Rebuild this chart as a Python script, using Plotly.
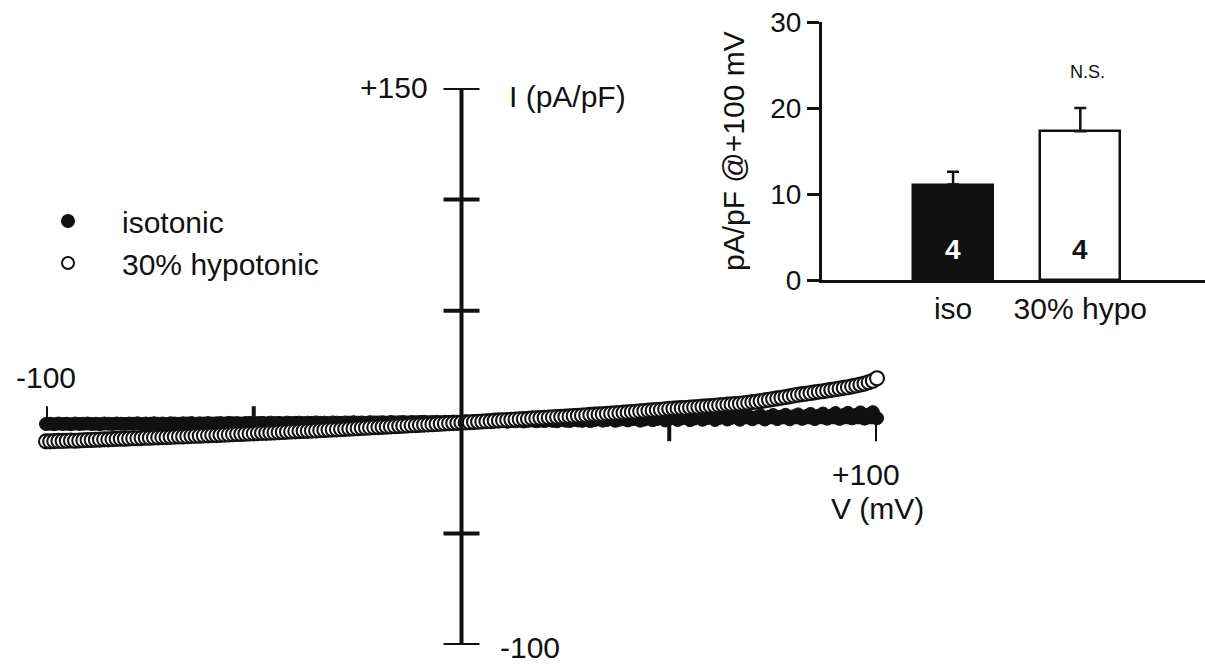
import plotly.graph_objects as go

# ---------------- data ----------------
voltage_mV = [
    -100, -99, -98, -97, -96, -95, -94, -93, -92, -91, -90, -89, -88, -87, -86, -85, -84, -83, -82, -81,
    -80, -79, -78, -77, -76, -75, -74, -73, -72, -71, -70, -69, -68, -67, -66, -65, -64, -63, -62, -61,
    -60, -59, -58, -57, -56, -55, -54, -53, -52, -51, -50, -49, -48, -47, -46, -45, -44, -43, -42, -41,
    -40, -39, -38, -37, -36, -35, -34, -33, -32, -31, -30, -29, -28, -27, -26, -25, -24, -23, -22, -21,
    -20, -19, -18, -17, -16, -15, -14, -13, -12, -11, -10, -9, -8, -7, -6, -5, -4, -3, -2, -1,
    0, 1, 2, 3, 4, 5, 6, 7, 8, 9, 10, 11, 12, 13, 14, 15, 16, 17, 18, 19,
    20, 21, 22, 23, 24, 25, 26, 27, 28, 29, 30, 31, 32, 33, 34, 35, 36, 37, 38, 39,
    40, 41, 42, 43, 44, 45, 46, 47, 48, 49, 50, 51, 52, 53, 54, 55, 56, 57, 58, 59,
    60, 61, 62, 63, 64, 65, 66, 67, 68, 69, 70, 71, 72, 73, 74, 75, 76, 77, 78, 79,
    80, 81, 82, 83, 84, 85, 86, 87, 88, 89, 90, 91, 92, 93, 94, 95, 96, 97, 98, 99,
    100]

isotonic_pApF = [
    -0.8, -0.7, -0.9, -0.6, -0.8, -0.7, -0.9, -0.6, -0.8, -0.7, -0.6, -0.8, -0.7, -0.9, -0.6, -0.7, -0.8, -0.6, -0.7, -0.8,
    -0.6, -0.7, -0.5, -0.8, -0.6, -0.7, -0.5, -0.7, -0.6, -0.8, -0.5, -0.6, -0.7, -0.5, -0.6, -0.4, -0.7, -0.5, -0.6, -0.4,
    -0.6, -0.5, -0.4, -0.6, -0.3, -0.5, -0.4, -0.6, -0.4, -0.3, -0.5, -0.4, -0.3, -0.5, -0.2, -0.4, -0.3, -0.5, -0.2, -0.4,
    -0.3, -0.2, -0.4, -0.2, -0.3, -0.1, -0.3, -0.2, -0.4, -0.1, -0.2, -0.3, -0.1, -0.2, 0.0, -0.2, -0.1, -0.3, 0.0, -0.1,
    -0.1, 0.0, -0.2, 0.1, -0.1, 0.0, 0.1, -0.1, 0.1, 0.0, 0.1, 0.2, 0.0, 0.1, 0.2, 0.0, 0.2, 0.1, 0.3, 0.1,
    0.2, 0.3, 0.1, 0.4, 0.2, 0.3, 0.5, 0.1, 0.4, 0.3, 0.6, 0.2, 0.5, 0.4, 0.7, 0.3, 0.6, 0.8, 0.4, 0.7,
    0.5, 0.9, 0.6, 0.4, 1.0, 0.7, 0.5, 1.1, 0.8, 0.6, 1.2, 0.5, 0.9, 1.3, 0.7, 1.0, 1.4, 0.6, 1.1, 1.5,
    0.8, 1.3, 1.6, 0.7, 1.2, 1.8, 0.9, 1.4, 1.9, 0.8, 1.5, 2.0, 1.0, 1.7, 2.2, 0.9, 1.6, 2.3, 1.1, 1.8,
    2.4, 1.0, 1.9, 2.6, 1.2, 2.0, 2.7, 1.1, 2.2, 2.9, 1.3, 2.3, 3.0, 1.2, 2.4, 3.2, 1.4, 2.5, 3.3, 1.3,
    2.7, 3.5, 1.5, 2.8, 3.7, 1.4, 2.9, 3.9, 1.6, 3.0, 4.1, 1.5, 3.2, 4.2, 1.7, 3.3, 4.4, 1.6, 3.4, 4.5,
    1.8]

hypotonic_pApF = [
    -8.6, -8.6, -8.5, -8.4, -8.4, -8.3, -8.2, -8.3, -8.2, -8.1, -8.0, -8.0, -7.9, -7.8, -7.7, -7.7, -7.6, -7.5, -7.4, -7.4,
    -7.3, -7.2, -7.2, -7.1, -7.0, -7.0, -6.9, -6.8, -6.7, -6.7, -6.6, -6.5, -6.4, -6.4, -6.3, -6.2, -6.1, -6.1, -6.0, -5.9,
    -5.8, -5.8, -5.7, -5.6, -5.5, -5.4, -5.3, -5.3, -5.2, -5.1, -5.0, -4.9, -4.8, -4.8, -4.7, -4.6, -4.5, -4.4, -4.3, -4.2,
    -4.1, -4.0, -3.9, -3.9, -3.8, -3.7, -3.6, -3.5, -3.4, -3.3, -3.2, -3.1, -3.0, -2.9, -2.8, -2.7, -2.6, -2.5, -2.4, -2.3,
    -2.2, -2.1, -2.0, -1.9, -1.8, -1.7, -1.6, -1.5, -1.4, -1.3, -1.2, -1.1, -1.0, -0.9, -0.8, -0.7, -0.6, -0.5, -0.4, -0.3,
    -0.2, -0.1, 0.0, 0.1, 0.2, 0.3, 0.4, 0.5, 0.7, 0.8, 0.9, 1.0, 1.1, 1.2, 1.3, 1.4, 1.5, 1.7, 1.8, 1.9,
    2.0, 2.1, 2.2, 2.3, 2.4, 2.5, 2.6, 2.8, 2.9, 3.0, 3.1, 3.3, 3.4, 3.5, 3.6, 3.8, 3.9, 4.0, 4.1, 4.3,
    4.4, 4.6, 4.7, 4.9, 5.0, 5.2, 5.3, 5.5, 5.6, 5.8, 6.0, 6.1, 6.2, 6.3, 6.4, 6.6, 6.7, 6.8, 7.0, 7.1,
    7.2, 7.4, 7.6, 7.7, 7.9, 8.0, 8.2, 8.3, 8.5, 8.7, 9.0, 9.2, 9.5, 9.8, 10.1, 10.4, 10.7, 11.0, 11.3, 11.6,
    12.0, 12.3, 12.6, 12.8, 13.1, 13.4, 13.7, 13.9, 14.2, 14.5, 14.8, 15.1, 15.4, 15.7, 16.1, 16.5, 16.9, 17.3, 17.9, 18.6,
    19.7]

series_names = ["isotonic", "30% hypotonic"]

# main axes tick values
y_ticks = [-100, -50, 50, 100, 150]
x_ticks_up = [-100, -50]
x_ticks_down = [50, 100]

# inset bar chart
bar_categories = ["iso", "30% hypo"]
bar_means = [11.1, 17.3]
bar_sem = [1.5, 2.7]
bar_n = [4, 4]
bar_yticks = [0, 10, 20, 30]

FONT = "Liberation Sans, Arial, sans-serif"
BIG = 30
INK = "#111111"

fig = go.Figure()

fig.add_trace(go.Scatter(
    x=voltage_mV, y=isotonic_pApF, mode="markers", name=series_names[0],
    marker=dict(symbol="circle", size=13, color=INK, line=dict(color=INK, width=1)),
    cliponaxis=False, xaxis="x", yaxis="y"))
fig.add_trace(go.Scatter(
    x=voltage_mV, y=hypotonic_pApF, mode="markers", name=series_names[1],
    marker=dict(symbol="circle", size=14, color="white", line=dict(color=INK, width=2.1)),
    cliponaxis=False, xaxis="x", yaxis="y"))

fig.add_trace(go.Bar(
    x=bar_categories, y=bar_means, xaxis="x2", yaxis="y2", showlegend=False,
    width=0.63,
    marker=dict(color=[INK, "white"], line=dict(color=INK, width=2.5)),
    error_y=dict(type="data", symmetric=False, array=bar_sem, arrayminus=[0, 0],
                 color=INK, thickness=2.5, width=6)))

shapes = []
# y axis line (through x = 0)
shapes.append(dict(type="line", xref="x", yref="y", x0=0, x1=0, y0=-100, y1=150,
                   line=dict(color=INK, width=4), layer="above"))
# x axis line (through y = 0)
shapes.append(dict(type="line", xref="x", yref="y", x0=-100, x1=100, y0=0, y1=0,
                   line=dict(color=INK, width=4), layer="below"))
for yt in y_ticks:
    shapes.append(dict(type="line", xref="x", yref="y", xsizemode="pixel", xanchor=0,
                       x0=-18, x1=18, y0=yt, y1=yt, line=dict(color=INK, width=4), layer="above"))
for xt in x_ticks_up:
    shapes.append(dict(type="line", xref="x", yref="y", ysizemode="pixel", yanchor=0,
                       x0=xt, x1=xt, y0=0, y1=16, line=dict(color=INK, width=4), layer="above"))
for xt in x_ticks_down:
    shapes.append(dict(type="line", xref="x", yref="y", ysizemode="pixel", yanchor=0,
                       x0=xt, x1=xt, y0=0, y1=-19, line=dict(color=INK, width=4), layer="above"))

ann = []
txt = dict(family=FONT, size=BIG, color=INK)
ann.append(dict(x=0, y=150, xref="x", yref="y", text="+150", showarrow=False,
                xanchor="right", yanchor="middle", xshift=-32, font=txt))
ann.append(dict(x=0, y=150, xref="x", yref="y", text="I (pA/pF)", showarrow=False,
                xanchor="left", yanchor="middle", xshift=45, yshift=-9, font=txt))
ann.append(dict(x=0, y=-100, xref="x", yref="y", text="-100", showarrow=False,
                xanchor="left", yanchor="middle", xshift=36, yshift=-2, font=txt))
ann.append(dict(x=-100, y=0, xref="x", yref="y", text="-100", showarrow=False,
                xanchor="center", yanchor="middle", yshift=45, font=txt))
ann.append(dict(x=100, y=0, xref="x", yref="y", text="+100", showarrow=False,
                xanchor="center", yanchor="middle", xshift=-11, yshift=-52, font=txt))
ann.append(dict(x=100, y=0, xref="x", yref="y", text="V (mV)", showarrow=False,
                xanchor="left", yanchor="middle", xshift=-48, yshift=-86, font=txt))
# inset annotations
ann.append(dict(x=bar_categories[1], y=bar_means[1] + bar_sem[1], xref="x2", yref="y2", text="N.S.",
                showarrow=False, xanchor="center", yanchor="bottom", xshift=7, yshift=24,
                font=dict(family=FONT, size=18, color=INK)))
for cat, n, col in zip(bar_categories, bar_n, ["white", INK]):
    ann.append(dict(x=cat, y=0, xref="x2", yref="y2", text="<b>%d</b>" % n, showarrow=False,
                    xanchor="center", yanchor="middle", yshift=31,
                    font=dict(family=FONT, size=28, color=col)))
ann.append(dict(x=733 / 1205, y=(664 - 151) / 664, xref="paper", yref="paper",
                text="pA/pF @+100 mV", textangle=-90, showarrow=False,
                xanchor="center", yanchor="middle", font=txt))

fig.update_layout(
    width=1205, height=664,
    margin=dict(l=0, r=0, t=0, b=0, autoexpand=False),
    paper_bgcolor="white", plot_bgcolor="rgba(0,0,0,0)",
    showlegend=True,
    legend=dict(x=14 / 1205, y=(664 - 195) / 664, xanchor="left", yanchor="top",
                font=dict(family=FONT, size=BIG, color=INK),
                itemsizing="constant", itemwidth=98, bgcolor="rgba(0,0,0,0)",
                tracegroupgap=0),
    xaxis=dict(domain=[46 / 1205, 877 / 1205], range=[-100, 100], visible=False),
    yaxis=dict(domain=[19 / 664, 576 / 664], range=[-100, 150], visible=False),
    xaxis2=dict(domain=[822 / 1205, 1.0], range=[-1.03, 1.98], anchor="y2",
                showline=True, linecolor=INK, linewidth=3, ticks="",
                showgrid=False, zeroline=False,
                tickfont=dict(family=FONT, size=BIG, color=INK)),
    yaxis2=dict(domain=[(664 - 280) / 664, (664 - 22) / 664], range=[0, 30], anchor="x2",
                tickvals=bar_yticks, showline=True, linecolor=INK, linewidth=3,
                ticks="outside", ticklen=12, tickwidth=3, tickcolor=INK,
                showgrid=False, zeroline=False,
                tickfont=dict(family=FONT, size=28, color=INK)),
    shapes=shapes, annotations=ann,
    bargap=0,
)

fig.write_html("out.html",
               config={"displayModeBar": False},
               post_script="document.body.style.margin='0';document.body.style.overflow='hidden';")
